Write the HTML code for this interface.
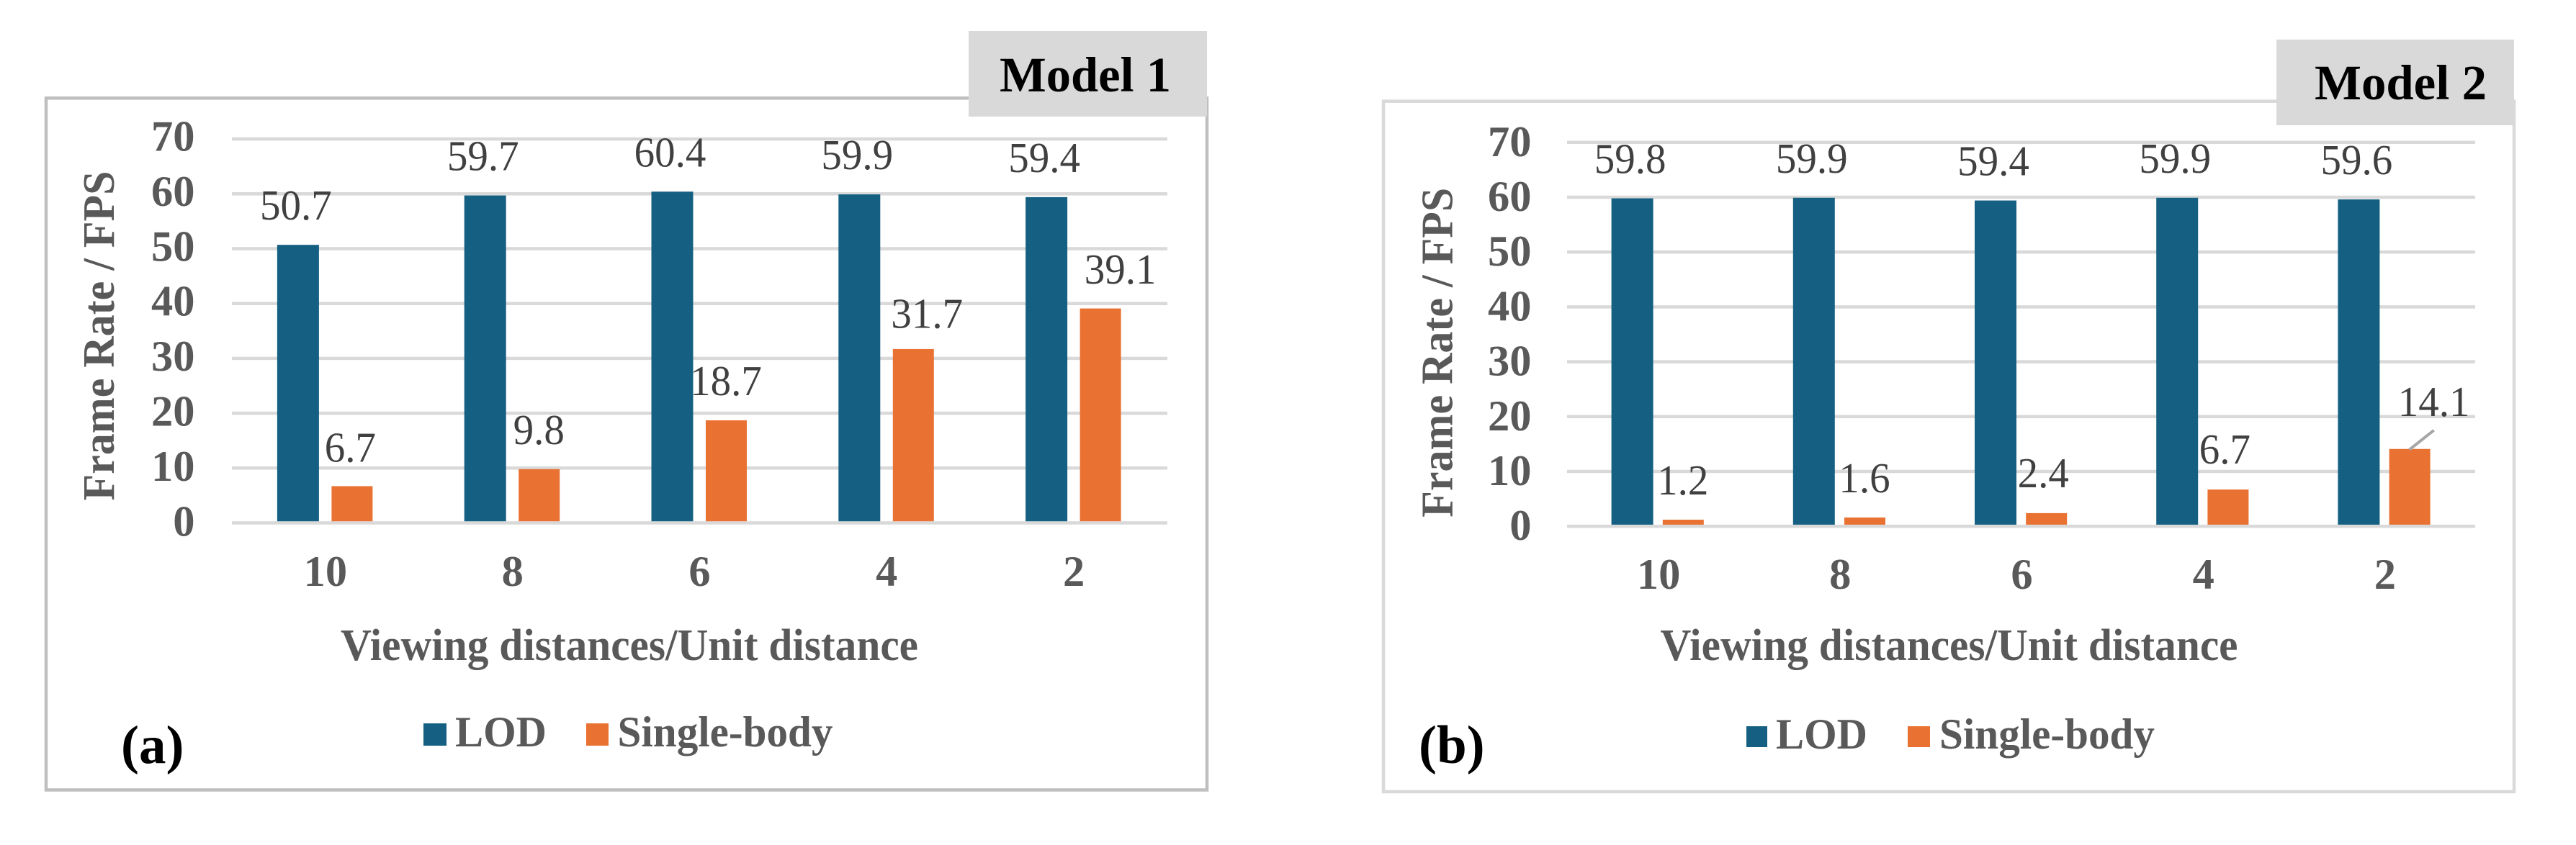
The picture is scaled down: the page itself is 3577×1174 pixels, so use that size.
<!DOCTYPE html>
<html lang="en">
<head>
<meta charset="utf-8">
<title>Frame rate comparison: LOD vs Single-body</title>
<style>
  html, body { margin: 0; padding: 0; background: #fff; }
  svg { display: block; }
  text { font-family: "Liberation Serif", serif; }
  .tick { font-size: 60.5px; font-weight: bold; fill: #595959; }
  .title { font-size: 62px; font-weight: bold; fill: #595959; }
  .legend { font-size: 60px; font-weight: bold; fill: #595959; }
  .value { font-size: 59px; fill: #404040; }
  .model { font-size: 68.5px; font-weight: bold; fill: #000; }
  .panel-tag { font-size: 75px; font-weight: bold; fill: #000; }
</style>
</head>
<body>
<svg id="figure" xmlns="http://www.w3.org/2000/svg" width="3577" height="1174" viewBox="0 0 3577 1174">
  <rect x="0" y="0" width="3577" height="1174" fill="#ffffff"/>

  <g id="chart-a">
    <rect x="64" y="136.3" width="1612" height="961.2" fill="#ffffff" stroke="#bfbfbf" stroke-width="4.5"/>
    <g id="plot-a"></g>
    <text class="title" transform="translate(158,466.5) rotate(-90)" text-anchor="middle" textLength="458" lengthAdjust="spacingAndGlyphs">Frame Rate / FPS</text>
    <text class="title" x="874" y="917" text-anchor="middle" textLength="802" lengthAdjust="spacingAndGlyphs">Viewing distances/Unit distance</text>
    <rect x="588" y="1005" width="32" height="31" fill="#156082"/>
    <text class="legend" x="632" y="1037" textLength="127" lengthAdjust="spacingAndGlyphs">LOD</text>
    <rect x="814" y="1005" width="31" height="31" fill="#E97132"/>
    <text class="legend" x="857.5" y="1037" textLength="299" lengthAdjust="spacingAndGlyphs">Single-body</text>
    <text class="panel-tag" x="168" y="1060">(a)</text>
    <rect x="1345" y="43" width="331" height="119" fill="#d9d9d9"/>
    <text class="model" x="1388" y="127" textLength="238" lengthAdjust="spacingAndGlyphs">Model 1</text>
  </g>

  <g id="chart-b">
    <rect x="1921" y="140.7" width="1570" height="959.3" fill="#ffffff" stroke="#d9d9d9" stroke-width="4.5"/>
    <g id="plot-b"></g>
    <text class="title" transform="translate(2016.5,489.7) rotate(-90)" text-anchor="middle" textLength="458" lengthAdjust="spacingAndGlyphs">Frame Rate / FPS</text>
    <text class="title" x="2706.5" y="917" text-anchor="middle" textLength="802" lengthAdjust="spacingAndGlyphs">Viewing distances/Unit distance</text>
    <rect x="2425" y="1009" width="29" height="29" fill="#156082"/>
    <text class="legend" x="2466" y="1040" textLength="127" lengthAdjust="spacingAndGlyphs">LOD</text>
    <rect x="2649" y="1009" width="31" height="29" fill="#E97132"/>
    <text class="legend" x="2693" y="1040" textLength="299" lengthAdjust="spacingAndGlyphs">Single-body</text>
    <text class="panel-tag" x="1970" y="1060">(b)</text>
    <rect x="3161" y="55" width="330" height="119" fill="#d9d9d9"/>
    <text class="model" x="3214" y="138" textLength="239" lengthAdjust="spacingAndGlyphs">Model 2</text>
  </g>
</svg>

<script>
const categories = ['10', '8', '6', '4', '2'];
const yTicks = [0, 10, 20, 30, 40, 50, 60, 70];
const model1Lod = [50.7, 59.7, 60.4, 59.9, 59.4];
const model1Single = [6.7, 9.8, 18.7, 31.7, 39.1];
const model2Lod = [59.8, 59.9, 59.4, 59.9, 59.6];
const model2Single = [1.2, 1.6, 2.4, 6.7, 14.1];

const SVG_NS = 'http://www.w3.org/2000/svg';

function make(parent, tag, attrs, text) {
  const node = document.createElementNS(SVG_NS, tag);
  Object.keys(attrs).forEach(function (k) { node.setAttribute(k, attrs[k]); });
  if (text !== undefined) node.textContent = text;
  parent.appendChild(node);
  return node;
}

function valueText(parent, x, y, str) {
  const width = ((str.length - 1) * 0.5 + 0.25) * 57;
  return make(parent, 'text', { class: 'value', x: x, y: y, 'text-anchor': 'middle', textLength: width, lengthAdjust: 'spacingAndGlyphs' }, str);
}

function drawChart(cfg) {
  const root = document.getElementById(cfg.rootId);
  const band = (cfg.right - cfg.left) / categories.length;
  const pxPerUnit = 7.62;
  const axisHalf = 2.25;
  const xAxis = function (i) { return cfg.left + band * (i + 0.5); };
  const yAxis = function (v) { return cfg.y0 - v * pxPerUnit; };

  yTicks.forEach(function (t) {
    const line = make(root, 'rect', { x: cfg.left, y: yAxis(t) - axisHalf, width: cfg.right - cfg.left, height: axisHalf * 2, fill: '#d9d9d9' });
    
    
    const label = make(root, 'text', { class: 'tick', x: cfg.tickRight, y: yAxis(t) + cfg.tickDy(t), 'text-anchor': 'end' }, String(t));
    
    
  });

  categories.forEach(function (c, i) {
    const cx = xAxis(i);
    const tick = make(root, 'text', { class: 'tick', x: cx + cfg.catDx, y: cfg.catY, 'text-anchor': 'middle' }, c);
    
    

    const lodX = cx + cfg.lodOffset;
    const lodBar = make(root, 'rect', { x: lodX, y: yAxis(cfg.lod[i]), width: 58, height: cfg.y0 - axisHalf - yAxis(cfg.lod[i]), fill: '#156082' });
    
    

    const singleX = cx + cfg.singleOffset;
    const singleBar = make(root, 'rect', { x: singleX, y: yAxis(cfg.single[i]), width: 57, height: cfg.y0 - axisHalf - yAxis(cfg.single[i]), fill: '#E97132' });
    
    

    const lodLabel = valueText(root, lodX + 26, yAxis(cfg.lod[i]) - 35, cfg.lod[i].toFixed(1));
    
    

    const nudge = cfg.singleLabelNudge(i);
    const singleLabel = valueText(root, singleX + 28 + nudge.dx, yAxis(cfg.single[i]) - 35 + nudge.dy, cfg.single[i].toFixed(1));
    
    

    if (nudge.leader) {
      const top = yAxis(cfg.single[i]);
      const leader = make(root, 'line', { x1: singleX + 28, y1: top + 1, x2: singleX + 62, y2: top - 26, stroke: '#a6a6a6', 'stroke-width': 4 });
      
      
    }
  });
}

drawChart({
  rootId: 'plot-a', left: 322, right: 1621, y0: 726.5,
  tickRight: 270.5,
  tickDy: function (t) { return 18 - t * 0.025; },
  catY: 814, catDx: 0,
  lodOffset: -67, singleOffset: 8.5,
  lod: model1Lod, single: model1Single,
  singleLabelNudge: function (i) {
    if (i === 0) return { dx: -2, dy: 1 };
    if (i === 3) return { dx: 19.5, dy: 5.5 };
    if (i === 4) return { dx: 28, dy: 0.5 };
    return { dx: 0, dy: 0 };
  }
});

drawChart({
  rootId: 'plot-b', left: 2176, right: 3437, y0: 731.2,
  tickRight: 2126.5,
  tickDy: function () { return 19; },
  catY: 818, catDx: 1,
  lodOffset: -64.5, singleOffset: 6.7,
  lod: model2Lod, single: model2Single,
  singleLabelNudge: function (i) {
    if (i === 2 || i === 3) return { dx: -4, dy: -1 };
    if (i === 4) return { dx: 34, dy: -10.8, leader: true };
    return { dx: 0, dy: 0 };
  }
});
</script>
</body>
</html>
